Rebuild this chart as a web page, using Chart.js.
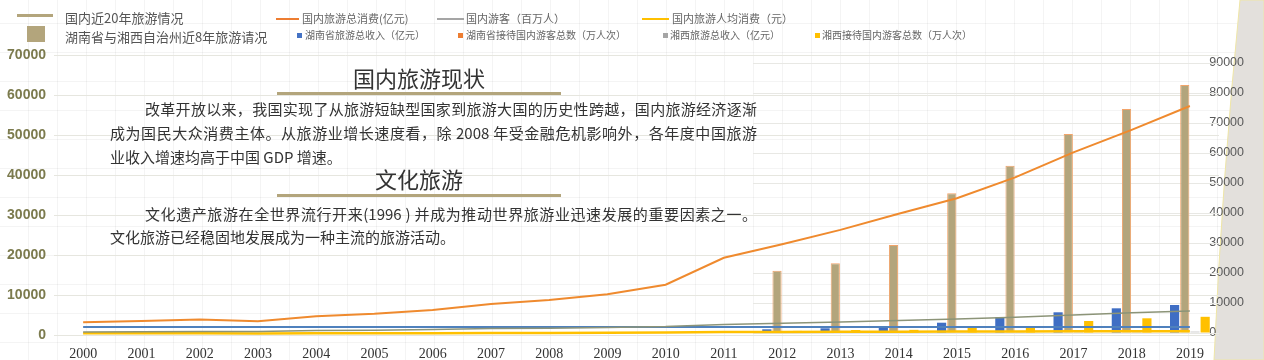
<!DOCTYPE html>
<html>
<head>
<meta charset="utf-8">
<script src="https://cdn.jsdelivr.net/npm/chart.js@4.4.1/dist/chart.umd.min.js"></script>
<style>
  html, body { margin: 0; padding: 0; }
  body {
    width: 1264px; height: 360px; overflow: hidden; position: relative; background: #fff;
    font-family: "Noto Sans CJK SC", "Noto Sans", sans-serif; color: #333;
  }
  .paper {
    position: absolute; left: 0; top: 0; width: 1264px; height: 360px;
    background-image:
      linear-gradient(rgba(0,0,0,0.045) 1px, transparent 1px),
      linear-gradient(90deg, rgba(0,0,0,0.045) 1px, transparent 1px);
    background-size: 29px 29px;
    background-position: -1px -6px;
  }
  svg.deco { position: absolute; left: 0; top: 0; }
  canvas { position: absolute; left: 0; top: 0; }
  .abs { position: absolute; white-space: nowrap; }

  /* big legend, top left */
  .bigline { left: 17px; top: 14px; width: 36px; height: 3px; background: #b3a57c; }
  .bigsq { left: 27px; top: 26px; width: 18px; height: 16px; background: #b3a57c; }
  .bigtxt { font-size: 13px; color: #555; line-height: 16px; }

  /* small legend */
  .lg { font-size: 11px; color: #666; line-height: 13px; }
  .lg2 { font-size: 10px; color: #666; line-height: 12px; }
  .ln { height: 2px; }
  .sq { width: 5px; height: 5px; }

  .title { font-size: 22px; line-height: 28px; text-align: center; color: #333; }
  .uline { height: 3px; background: #b3a57c; }
  .p { font-size: 15px; line-height: 20px; color: #333; }
  .just { text-align: justify; text-align-last: justify; }
</style>
</head>
<body>
<div class="paper"></div>
<svg class="deco" width="1264" height="360">
  <path d="M1240,0 Q1222,180 1214,360 L1264,360 L1264,0 Z" fill="#e3e0dc" stroke="#efe6a6" stroke-width="1"/>
</svg>

<canvas id="ChartTour" width="1264" height="360"></canvas>

<!-- legend -->
<div class="abs bigline"></div>
<div class="abs bigsq"></div>
<div class="abs bigtxt" style="left:65px; top:10px;">国内近20年旅游情况</div>
<div class="abs bigtxt" style="left:65px; top:29px;">湖南省与湘西自治州近8年旅游请况</div>

<div class="abs ln" style="left:276px; top:18px; width:23px; background:#ed7d31;"></div>
<div class="abs lg" style="left:302px; top:12px;">国内旅游总消费(亿元)</div>
<div class="abs ln" style="left:437px; top:18px; width:27px; background:#a5a5a5;"></div>
<div class="abs lg" style="left:466px; top:12px;">国内游客（百万人）</div>
<div class="abs ln" style="left:642px; top:18px; width:27px; background:#ffc000;"></div>
<div class="abs lg" style="left:672px; top:12px;">国内旅游人均消费（元）</div>

<div class="abs sq" style="left:297px; top:33px; background:#4472c4;"></div>
<div class="abs lg2" style="left:305px; top:29px;">湖南省旅游总收入（亿元）</div>
<div class="abs sq" style="left:458px; top:33px; background:#ed7d31;"></div>
<div class="abs lg2" style="left:466px; top:29px;">湖南省接待国内游客总数（万人次）</div>
<div class="abs sq" style="left:663px; top:33px; background:#a5a5a5;"></div>
<div class="abs lg2" style="left:670px; top:29px;">湘西旅游总收入（亿元）</div>
<div class="abs sq" style="left:815px; top:33px; background:#ffc000;"></div>
<div class="abs lg2" style="left:822px; top:29px;">湘西接待国内游客总数（万人次）</div>

<!-- text block -->
<div class="abs title" style="left:277px; width:284px; top:63px;">国内旅游现状</div>
<div class="abs uline" style="left:277px; width:284px; top:92px;"></div>
<div class="abs p just" style="left:145px; width:612px; top:99px;">改革开放以来，我国实现了从旅游短缺型国家到旅游大国的历史性跨越，国内旅游经济逐渐</div>
<div class="abs p just" style="left:110px; width:647px; top:123px;">成为国民大众消费主体。从旅游业增长速度看，除 2008 年受金融危机影响外，各年度中国旅游</div>
<div class="abs p" style="left:110px; top:147px;">业收入增速均高于中国 GDP 增速。</div>
<div class="abs title" style="left:277px; width:284px; top:164px;">文化旅游</div>
<div class="abs uline" style="left:277px; width:284px; top:194px;"></div>
<div class="abs p just" style="left:145px; width:612px; top:204px;">文化遗产旅游在全世界流行开来(1996 ) 并成为推动世界旅游业迅速发展的重要因素之一。</div>
<div class="abs p" style="left:110px; top:227px;">文化旅游已经稳固地发展成为一种主流的旅游活动。</div>

<script>
// Data
const years = ["2000", "2001", "2002", "2003", "2004", "2005", "2006", "2007", "2008", "2009",
  "2010", "2011", "2012", "2013", "2014", "2015", "2016", "2017", "2018", "2019"];

// 国内近20年 (left axis)
const domesticSpend = [3175, 3522, 3878, 3442, 4711, 5286, 6230, 7771, 8749, 10184,
  12580, 19305, 22706, 26276, 30312, 34195, 39390, 45661, 51278, 57251];
const domesticTourists = [744, 784, 878, 870, 1102, 1212, 1394, 1610, 1712, 1902,
  2103, 2641, 2957, 3262, 3611, 4000, 4440, 5001, 5539, 6006];
const perCapitaSpend = [427, 450, 442, 396, 428, 436, 447, 483, 511, 535,
  598, 731, 768, 806, 840, 857, 888, 913, 926, 953];
const blueLine = [2000, 2000, 2000, 2000, 2000, 2000, 2000, 2000, 2000, 2000,
  2000, 2000, 2000, 2000, 2000, 2000, 2000, 2000, 2000, 2000];

// 湖南省与湘西 2012-2019 (right axis)
const hunanIncome = [null, null, null, null, null, null, null, null, null, null,
  null, null, 1230, 1560, 2100, 3430, 5230, 6900, 8230, 9330];
const hunanVisitors = [null, null, null, null, null, null, null, null, null, null,
  null, null, 20770, 23230, 29330, 46570, 55770, 66330, 74670, 82670];
const xiangxiIncome = [null, null, null, null, null, null, null, null, null, null,
  null, null, 150, 220, 260, 300, 350, 400, 450, 520];
const xiangxiVisitors = [null, null, null, null, null, null, null, null, null, null,
  null, null, 700, 1000, 1050, 1800, 2100, 4000, 4900, 5400];

const leftTicks = [0, 10000, 20000, 30000, 40000, 50000, 60000, 70000];
const rightTicks = [0, 10000, 20000, 30000, 40000, 50000, 60000, 70000, 80000, 90000];

// right axis grid only over the 2012-2019 part
const rightGrid = {
  id: "rightGrid",
  beforeDatasetsDraw(chart) {
    const { ctx, chartArea } = chart;
    const x = chart.scales.x;
    const y1 = chart.scales.y1;
    const x0 = x.getPixelForValue(11.5);
    ctx.save();
    ctx.strokeStyle = "#e8e8e4";
    ctx.lineWidth = 1;
    rightTicks.forEach((v) => {
      const py = Math.round(y1.getPixelForValue(v)) + 0.5;
      ctx.beginPath();
      ctx.moveTo(x0, py);
      ctx.lineTo(chartArea.right, py);
      ctx.stroke();
    });
    ctx.restore();
  },
};

const ChartTour = document.getElementById("ChartTour");

new Chart(ChartTour, {
  type: "bar",
  data: {
    labels: years,
    datasets: [
      {
        type: "line",
        label: "国内旅游总消费(亿元)",
        data: domesticSpend,
        borderColor: "#ef8a2e",
        borderWidth: 2,
        pointRadius: 0,
        yAxisID: "y",
        order: 0,
      },
      {
        type: "line",
        label: "国内游客（百万人）",
        data: domesticTourists,
        borderColor: "#8c9478",
        borderWidth: 1.5,
        pointRadius: 0,
        yAxisID: "y",
        order: 0,
      },
      {
        type: "line",
        label: "",
        data: blueLine,
        borderColor: "#4f81bd",
        borderWidth: 2,
        pointRadius: 0,
        yAxisID: "y",
        order: 0,
      },
      {
        type: "line",
        label: "国内旅游人均消费（元）",
        data: perCapitaSpend,
        borderColor: "#ffc000",
        borderWidth: 2.5,
        pointRadius: 0,
        yAxisID: "y",
        order: 0,
      },
      {
        label: "湖南省旅游总收入（亿元）",
        data: hunanIncome,
        backgroundColor: "#3f6ec4",
        yAxisID: "y1",
        order: 1,
      },
      {
        label: "湖南省接待国内游客总数（万人次）",
        data: hunanVisitors,
        backgroundColor: "#b3a57c",
        borderColor: "#f2a46a",
        borderWidth: 1,
        yAxisID: "y1",
        order: 1,
      },
      {
        label: "湘西旅游总收入（亿元）",
        data: xiangxiIncome,
        backgroundColor: "#d3d3d3",
        yAxisID: "y1",
        order: 1,
      },
      {
        label: "湘西接待国内游客总数（万人次）",
        data: xiangxiVisitors,
        backgroundColor: "#ffc000",
        yAxisID: "y1",
        order: 1,
      },
    ],
  },
  options: {
    responsive: false,
    animation: false,
    layout: { padding: { top: 55, left: 0, right: 0, bottom: 0 } },
    datasets: {
      bar: { categoryPercentage: 0.7, barPercentage: 0.9 },
    },
    plugins: {
      legend: { display: false },
      tooltip: { enabled: false },
    },
    scales: {
      x: {
        grid: { display: false },
        border: { display: false },
        ticks: {
          color: "#333",
          font: { family: "Liberation Serif", size: 14 },
          padding: 3,
          maxRotation: 0,
          autoSkip: false,
        },
        afterFit: (scale) => { scale.height = 25; },
      },
      y: {
        position: "left",
        min: 0,
        max: 70000,
        grid: { color: "#e6e6df", drawTicks: false },
        border: { display: false },
        ticks: {
          color: "#7c7b4e",
          font: { family: "Liberation Sans", size: 14, weight: "bold" },
          padding: 8,
          callback: (v) => String(v),
        },
        afterBuildTicks: (axis) => {
          axis.ticks = leftTicks.map((v) => ({ value: v }));
        },
        afterFit: (scale) => {
          scale.width = 54;
          scale.paddingTop = 0;
          scale.paddingBottom = 0;
        },
      },
      y1: {
        position: "right",
        min: -667,
        max: 92667,
        grid: { drawOnChartArea: false, drawTicks: false },
        border: { display: false },
        ticks: {
          color: "#595959",
          font: { family: "Liberation Sans", size: 12.5 },
          mirror: true,
          crossAlign: "far",
          padding: 25,
          callback: (v) => String(v),
        },
        afterBuildTicks: (axis) => {
          axis.ticks = rightTicks.map((v) => ({ value: v }));
        },
        afterFit: (scale) => {
          scale.width = 45;
          scale.paddingTop = 0;
          scale.paddingBottom = 0;
        },
      },
    },
  },
  plugins: [rightGrid],
});
</script>
</body>
</html>
